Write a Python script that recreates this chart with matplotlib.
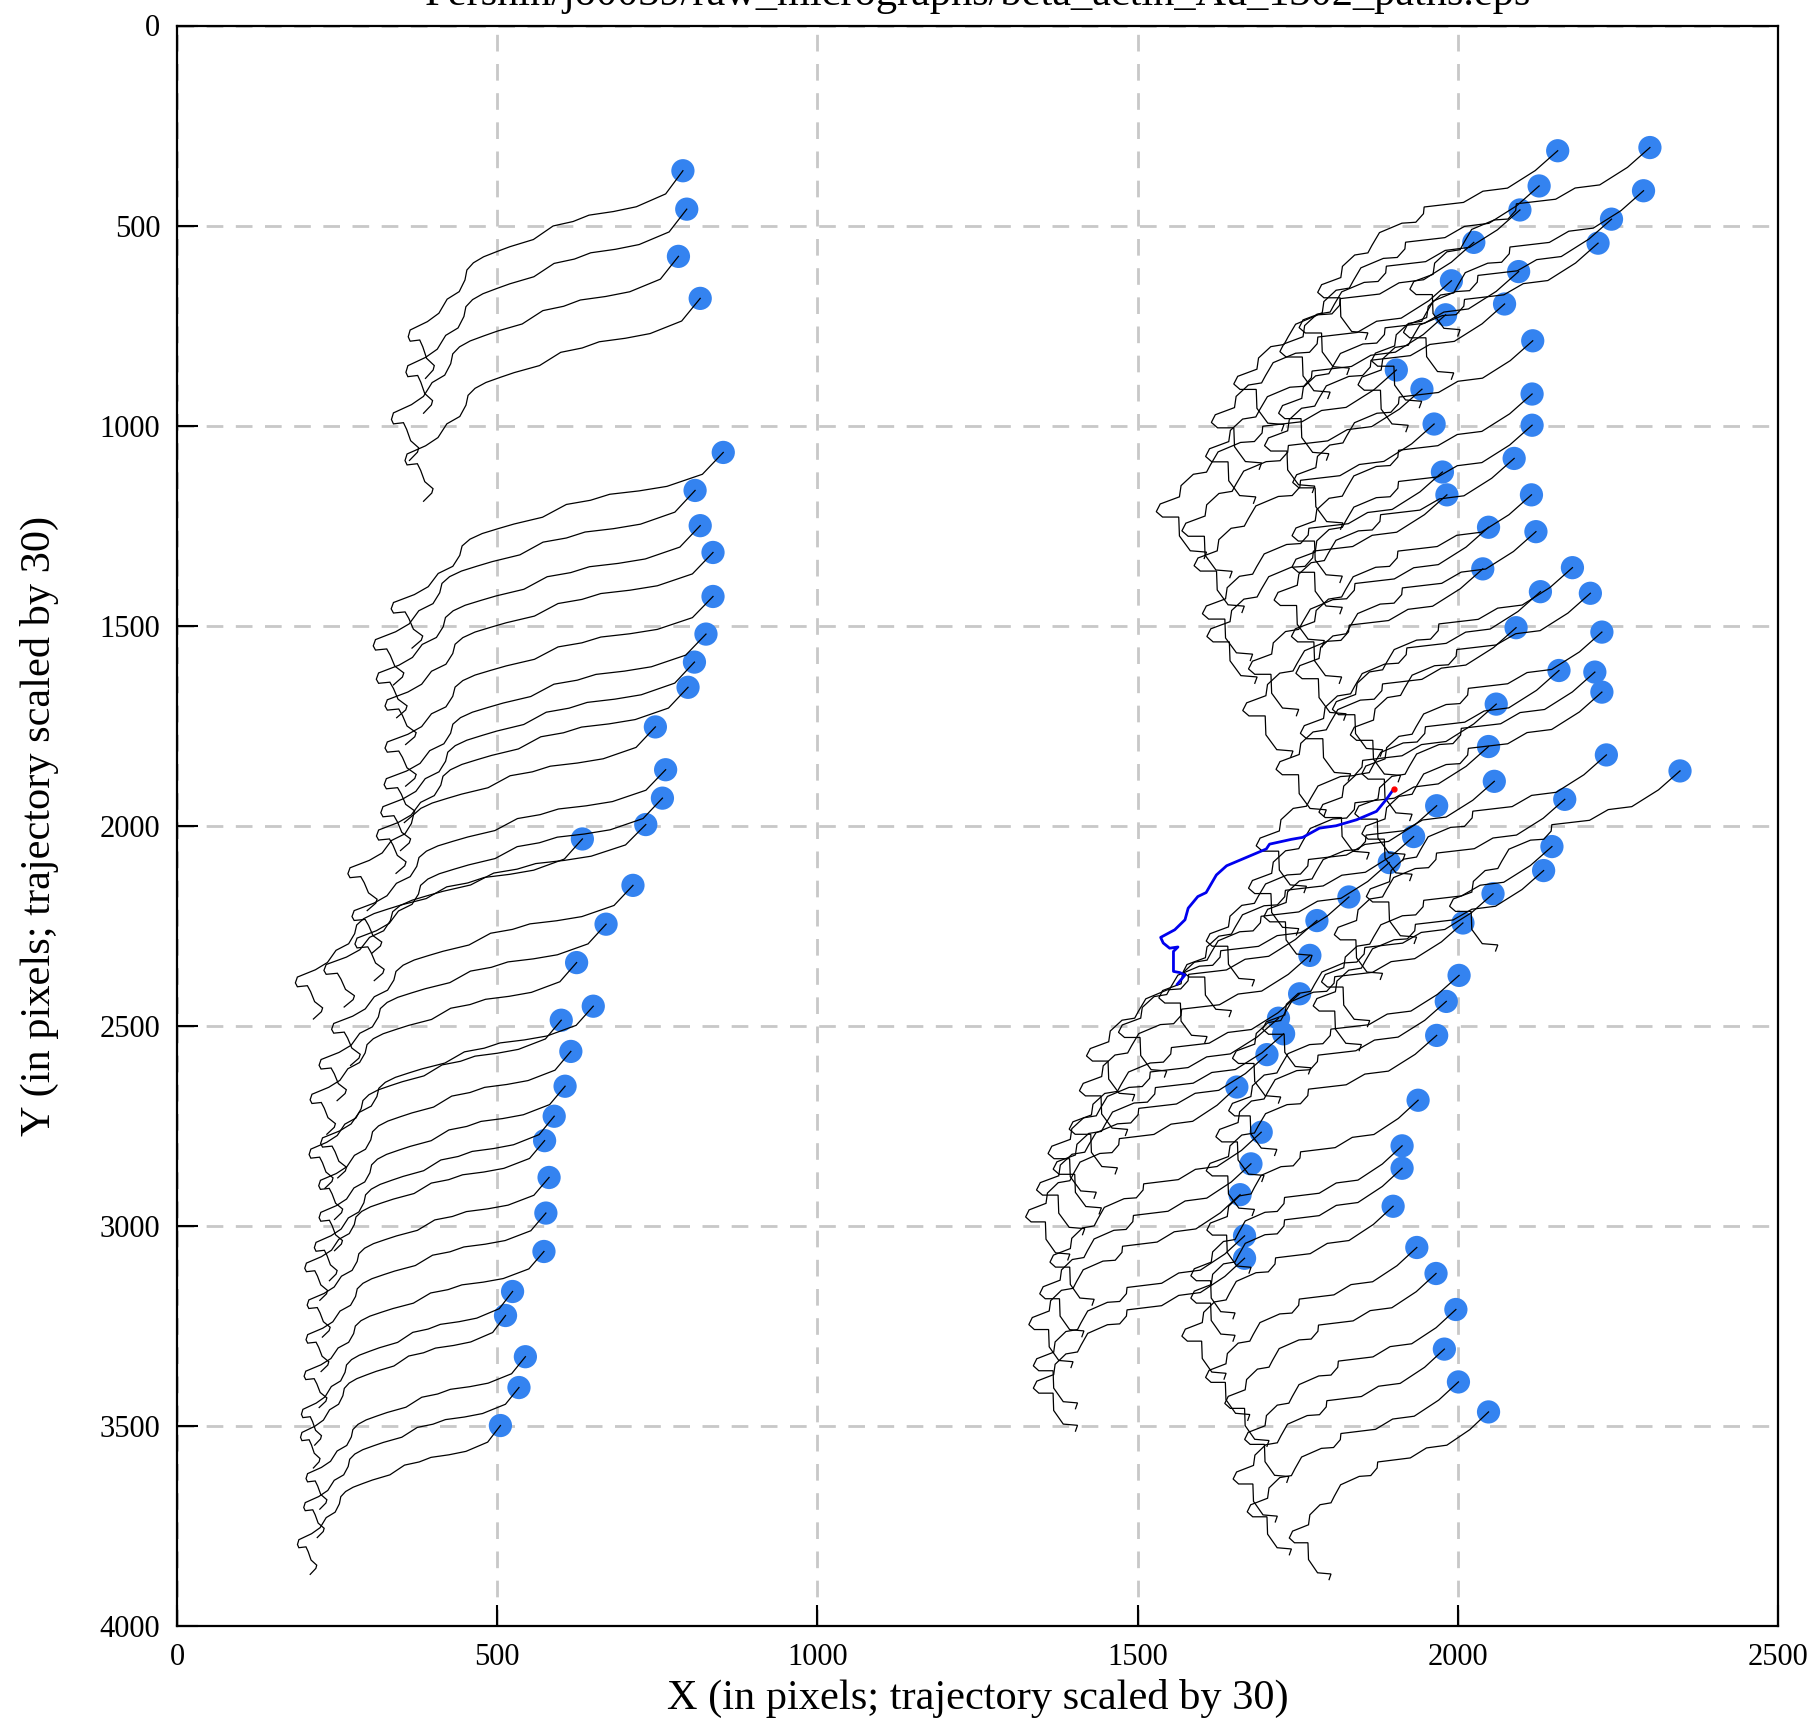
import matplotlib
matplotlib.use("Agg")
import matplotlib.pyplot as plt
import numpy as np

plt.rcParams['font.family'] = ['Liberation Serif', 'DejaVu Serif']
plt.rcParams['lines.scale_dashes'] = False

SCALE = 30
title_text = "Pershin/jo0039/raw_micrographs/beta_actin_Au_1302_paths.eps"
x_ticks = [0, 500, 1000, 1500, 2000, 2500]
y_ticks = [0, 500, 1000, 1500, 2000, 2500, 3000, 3500, 4000]

# ---- particle start positions (pixels) ----
left_x = [790, 796, 783, 817,
          853, 809, 817, 837, 837, 826, 808, 798, 747, 763, 758, 732, 633, 712,
          670, 624, 650, 600, 615, 606, 589, 574, 581, 576, 573, 524, 513, 544, 534, 505]
left_y = [363, 459, 577, 682,
          1067, 1162, 1250, 1317, 1427, 1521, 1591, 1654, 1753, 1860, 1931, 1997, 2033, 2149,
          2246, 2342, 2451, 2486, 2564, 2651, 2726, 2787, 2879, 2968, 3064, 3164, 3224, 3327, 3404, 3499]
# total shift of each left trajectory at its last frame (pixels, before scaling)
left_end_dx = [-13.4, -13.7, -14.0, -14.4,
               -16.2, -15.7, -15.8, -16.0, -16.0, -15.7, -15.3, -15.2, -15.0, -15.3, -15.0, -15.7, -14.0, -14.7,
               -14.0, -13.0, -13.3, -12.3, -12.3, -12.0, -11.7, -11.7, -11.8, -11.7, -11.7, -10.3, -10.0, -10.7, -10.5, -9.9]
left_end_dy = [17.3, 17.0, 17.0, 16.9,
               16.3, 16.2, 16.0, 16.0, 15.8, 15.7, 15.7, 15.5, 15.3, 15.3, 15.2, 15.2, 15.0, 15.0,
               14.7, 14.3, 14.3, 14.0, 14.0, 13.7, 13.7, 13.3, 13.3, 13.2, 13.0, 12.8, 12.7, 12.7, 12.5, 12.4]

right_x = [2156, 2300, 2127, 2290, 2097, 2240, 2025, 2219, 1990, 2095, 2073, 1981, 2117, 1904,
           1944, 2116, 1963, 2116, 2088, 1976, 1983, 2115, 2048, 2122, 2179, 2039, 2207, 2129,
           2225, 2091, 2158, 2214, 2225, 2060, 2048, 2232, 2347, 2057, 1967, 2167, 1931, 2147,
           1893, 2134, 2055, 1830, 2008, 1780, 1769, 2002, 1753, 1982, 1720, 1728, 1967, 1702,
           1655, 1938, 1693, 1913, 1677, 1913, 1660, 1899, 1667, 1936, 1667, 1966, 1997, 1979,
           2001, 2048]
right_y = [313, 305, 401, 413, 461, 484, 542, 544, 638, 615, 696, 723, 788, 861,
           909, 921, 996, 999, 1082, 1116, 1173, 1173, 1254, 1265, 1355, 1358, 1419, 1415,
           1516, 1505, 1612, 1616, 1666, 1696, 1802, 1823, 1863, 1889, 1950, 1934, 2027, 2052,
           2092, 2112, 2170, 2178, 2243, 2237, 2324, 2374, 2420, 2439, 2481, 2520, 2524, 2572,
           2653, 2686, 2766, 2800, 2845, 2856, 2922, 2951, 3025, 3054, 3081, 3119, 3209, 3308,
           3390, 3465]
right_end_dx = [-10.0] * 36 + [-9.6] * 20 + [-8.8] * 15 + [-8.3]
right_end_dy = [15.7] * 36 + [15.0] * 20 + [14.4] * 15 + [13.97]

# ---- typical frame-by-frame path shapes (pixels, before scaling) ----
tmpl_left_dx = [0, -0.90, -2.43, -3.63, -4.90, -5.73, -6.77, -7.80, -9.03, -9.70, -10.40, -10.93,
                -11.27, -11.37, -11.67, -12.30, -12.73, -13.33, -14.23, -14.33, -14.23, -13.73,
                -13.57, -13.37, -12.97, -13.03, -13.43]
tmpl_left_dy = [0, 1.93, 3.00, 3.40, 3.70, 4.23, 4.60, 5.73, 6.33, 6.73, 7.17, 7.67,
                8.27, 9.10, 10.07, 10.70, 11.87, 12.57, 13.27, 13.83, 14.20, 14.10,
                14.67, 15.63, 16.23, 16.60, 17.30]
tmpl_right_dx = [0, -0.97, -2.17, -3.23, -4.07, -5.77, -5.80, -6.13, -6.73, -7.70, -8.03, -8.20,
                 -8.77, -9.30, -9.37, -10.20, -10.37, -10.10, -9.40, -9.37, -8.90, -8.20, -8.30]
tmpl_right_dy = [0, 1.47, 2.77, 3.00, 3.83, 4.17, 4.67, 5.30, 5.37, 6.07, 7.03, 7.57,
                 7.73, 8.57, 9.40, 9.93, 10.50, 10.90, 10.90, 12.30, 13.40, 13.50, 13.97]

# ---- highlighted trajectory (already scaled, pixels) ----
blue_x = [1900, 1888, 1873, 1842, 1810, 1784, 1758, 1740, 1706, 1701, 1670, 1639, 1623, 1607,
          1594, 1579, 1574, 1558, 1536, 1540, 1550, 1563, 1556, 1556, 1566, 1574, 1562]
blue_y = [1908, 1935, 1964, 1985, 2000, 2006, 2029, 2034, 2046, 2058, 2079, 2100, 2123, 2167,
          2177, 2206, 2235, 2260, 2279, 2293, 2306, 2303, 2314, 2364, 2367, 2373, 2396]

fig = plt.figure(figsize=(18.15, 17.27), dpi=100)
ax = fig.add_axes([177 / 1815, 1 - 1626 / 1727, (1778 - 177) / 1815, (1626 - 25.5) / 1727])

ax.set_xlim(0, 2500)
ax.set_ylim(4000, 0)
ax.set_xticks(x_ticks)
ax.set_yticks(y_ticks)
ax.grid(True, color='#c8c8c8', linestyle=(0, (12, 9)), linewidth=2.0, zorder=0)
ax.set_axisbelow(True)

def draw_group(xs, ys, exs, eys, tdx, tdy):
    tdx = np.asarray(tdx, float)
    tdy = np.asarray(tdy, float)
    for x0, y0, ex, ey in zip(xs, ys, exs, eys):
        px = x0 + SCALE * tdx * (ex / tdx[-1])
        py = y0 + SCALE * tdy * (ey / tdy[-1])
        ax.plot(px, py, color='black', lw=0.9, zorder=3, solid_joinstyle='miter')

draw_group(left_x, left_y, left_end_dx, left_end_dy, tmpl_left_dx, tmpl_left_dy)
draw_group(right_x, right_y, right_end_dx, right_end_dy, tmpl_right_dx, tmpl_right_dy)

ax.scatter(left_x + right_x, left_y + right_y, s=280, color='#3483f0', edgecolors='none', zorder=2)

ax.plot(blue_x, blue_y, color='#0000ee', lw=2.0, zorder=4)
ax.plot(blue_x[0], blue_y[0], 'o', color='red', ms=3.5, zorder=5)

for s in ax.spines.values():
    s.set_linewidth(1.6)
    s.set_zorder(6)
ax.tick_params(direction='in', length=15, width=1.5, top=False, right=False,
               labelsize=22, pad=12)

ax.set_xlabel('X (in pixels; trajectory scaled by 30)', fontsize=30.5, labelpad=5)
ax.set_ylabel('Y (in pixels; trajectory scaled by 30)', fontsize=30.5, labelpad=29)

fig.text((177 + 1778) / 2 / 1815, 1 - 5 / 1727, title_text, fontsize=30.5,
         ha='center', va='baseline')

fig.savefig('out.png', dpi=100)
